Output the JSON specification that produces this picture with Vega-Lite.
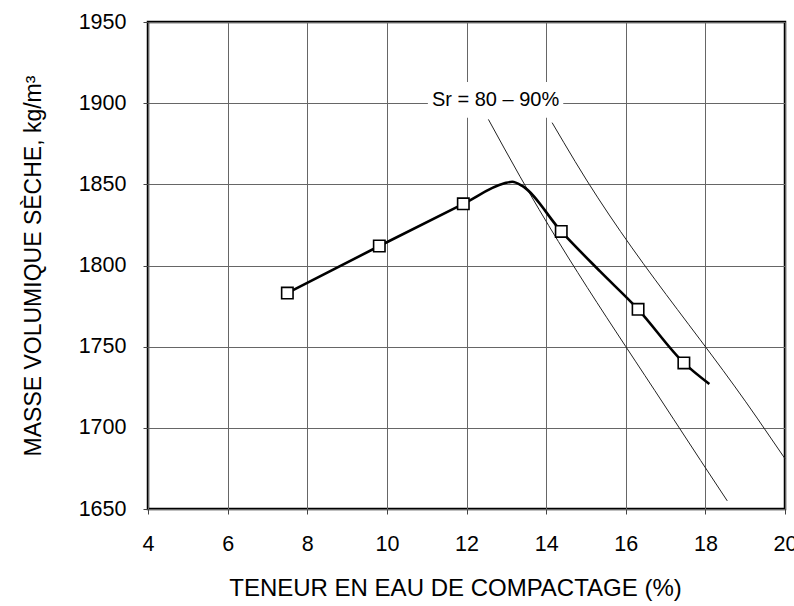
{
  "$schema": "https://vega.github.io/schema/vega-lite/v6.json",
  "width": 637,
  "height": 487,
  "autosize": {"type": "none"},
  "padding": {"left": 148, "top": 22, "right": 9, "bottom": 97},
  "background": "white",
  "config": {
    "view": {"stroke": "black", "strokeWidth": 2.5},
    "font": "Liberation Sans",
    "axis": {
      "labelFont": "Liberation Sans",
      "titleFont": "Liberation Sans",
      "labelColor": "black",
      "titleColor": "black",
      "titleFontWeight": "normal",
      "labelFontSize": 21.5,
      "titleFontSize": 23,
      "gridColor": "#666666",
      "gridWidth": 1,
      "gridOpacity": 1,
      "tickColor": "#444444",
      "tickSize": 5,
      "domain": false
    }
  },
  "datasets": {
    "curve": [
      {"w": 7.50, "d": 1783},
      {"w": 9.81, "d": 1812},
      {"w": 11.92, "d": 1838},
      {"w": 12.95, "d": 1850.6},
      {"w": 13.15, "d": 1851.6},
      {"w": 13.4, "d": 1849},
      {"w": 14.38, "d": 1821},
      {"w": 15.35, "d": 1796.5},
      {"w": 16.31, "d": 1773},
      {"w": 17.46, "d": 1740},
      {"w": 18.1, "d": 1727}
    ],
    "points": [
      {"w": 7.50, "d": 1783},
      {"w": 9.81, "d": 1812},
      {"w": 11.92, "d": 1838},
      {"w": 14.38, "d": 1821},
      {"w": 16.31, "d": 1773},
      {"w": 17.46, "d": 1740}
    ],
    "sr": [
      {"sr": "80", "w": 12.55, "d": 1890},
      {"sr": "80", "w": 13.34, "d": 1855},
      {"sr": "80", "w": 17.21, "d": 1705},
      {"sr": "80", "w": 18.55, "d": 1655},
      {"sr": "90", "w": 14.15, "d": 1888},
      {"sr": "90", "w": 14.73, "d": 1864},
      {"sr": "90", "w": 19.3, "d": 1706},
      {"sr": "90", "w": 20.0, "d": 1681}
    ],
    "label": [
      {"w1": 11.03, "w2": 14.43, "d1": 1891, "d2": 1913, "wm": 12.73, "dm": 1902, "txt": "Sr = 80 – 90%"}
    ]
  },
  "layer": [
    {
      "data": {"name": "label"},
      "mark": {"type": "rect", "fill": "white", "stroke": null},
      "encoding": {
        "x": {
          "field": "w1", "type": "quantitative",
          "scale": {"domain": [4, 20], "nice": false, "zero": false},
          "axis": {
            "values": [4, 6, 8, 10, 12, 14, 16, 18, 20],
            "format": "d",
            "title": "TENEUR EN EAU DE COMPACTAGE (%)",
            "titleFontSize": 24,
            "titleX": 307,
            "labelPadding": 19,
            "titlePadding": 22,
            "labelFlush": false
          }
        },
        "x2": {"field": "w2"},
        "y": {
          "field": "d1", "type": "quantitative",
          "scale": {"domain": [1650, 1950], "nice": false, "zero": false},
          "axis": {
            "values": [1650, 1700, 1750, 1800, 1850, 1900, 1950],
            "format": "d",
            "title": "MASSE VOLUMIQUE SÈCHE, kg/m³",
            "labelPadding": 17,
            "titlePadding": 33,
            "labelFlush": false
          }
        },
        "y2": {"field": "d2"}
      }
    },
    {
      "data": {"name": "sr"},
      "mark": {"type": "line", "color": "#222222", "strokeWidth": 1, "interpolate": "monotone"},
      "encoding": {
        "x": {"field": "w", "type": "quantitative"},
        "y": {"field": "d", "type": "quantitative"},
        "detail": {"field": "sr"}
      }
    },
    {
      "data": {"name": "curve"},
      "mark": {"type": "line", "color": "black", "strokeWidth": 2.6, "interpolate": "monotone"},
      "encoding": {
        "x": {"field": "w", "type": "quantitative"},
        "y": {"field": "d", "type": "quantitative"}
      }
    },
    {
      "data": {"name": "points"},
      "mark": {"type": "point", "shape": "square", "filled": false, "fill": "white", "fillOpacity": 1, "stroke": "black", "strokeWidth": 1.6, "size": 130, "opacity": 1},
      "encoding": {
        "x": {"field": "w", "type": "quantitative"},
        "y": {"field": "d", "type": "quantitative"}
      }
    },
    {
      "data": {"name": "label"},
      "mark": {"type": "text", "fontSize": 20, "color": "black", "align": "center", "baseline": "middle", "font": "Liberation Sans"},
      "encoding": {
        "x": {"field": "wm", "type": "quantitative"},
        "y": {"field": "dm", "type": "quantitative"},
        "text": {"field": "txt"}
      }
    }
  ]
}
